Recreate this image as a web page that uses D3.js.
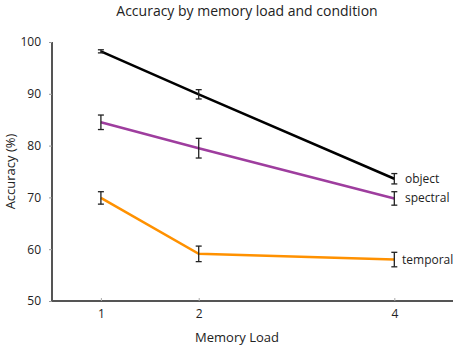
<!DOCTYPE html>
<html><head><meta charset="utf-8">
<script src="https://cdn.jsdelivr.net/npm/d3@7"></script>
<style>body{margin:0;background:#fff}svg{display:block}text{font-family:"Open Sans",sans-serif;fill:#222}</style>
</head><body>
<script>
const loads = [1, 2, 4];
const yTicks = [50, 60, 70, 80, 90, 100];
const conditions = ["object", "spectral", "temporal"];
const objectVals = [98.2, 89.9, 73.6];
const objectErr = [0.3, 0.9, 1.0];
const spectralVals = [84.5, 79.5, 69.8];
const spectralErr = [1.4, 1.9, 1.3];
const temporalVals = [69.9, 59.1, 58.0];
const temporalErr = [1.2, 1.5, 1.4];
const colors = ["#000000", "#9e3d9e", "#ff9100"];

const series = [
  {name: conditions[0], vals: objectVals, err: objectErr, color: colors[0]},
  {name: conditions[1], vals: spectralVals, err: spectralErr, color: colors[1]},
  {name: conditions[2], vals: temporalVals, err: temporalErr, color: colors[2]}
];

const W = 454, H = 346;
const svg = d3.select("body").append("svg").attr("width", W).attr("height", H);
const x = d3.scaleLinear().domain([0.5, 4.6]).range([52, 453]);
const y = d3.scaleLinear().domain([50, 100]).range([301, 42]);

// title
svg.append("text").attr("x", 247).attr("y", 16).attr("text-anchor", "middle")
  .style("font-size", "14px").text("Accuracy by memory load and condition");

// y axis
const ya = svg.append("g").attr("transform", `translate(${x(0.5)},0)`)
  .call(d3.axisLeft(y).tickValues(yTicks).tickSize(3).tickPadding(8).tickFormat(d3.format("d")));
ya.select(".domain").attr("stroke", "#555").attr("stroke-width", 2).attr("d", `M0,${y(100)}V${y(50)}`);
ya.selectAll(".tick line").attr("stroke", "#999");
ya.selectAll(".tick text").style("font-size", "12px").style("font-family", "Open Sans").attr("fill", "#222");

// x axis
const xa = svg.append("g").attr("transform", `translate(0,${y(50)})`)
  .call(d3.axisBottom(x).tickValues(loads).tickSize(-3).tickPadding(8).tickFormat(d3.format("d")));
xa.select(".domain").attr("stroke", "#555").attr("stroke-width", 2).attr("d", `M${x(0.5)},0H${x(4.6)}`);
xa.selectAll(".tick line").attr("stroke", "#aaa");
xa.selectAll(".tick text").style("font-size", "12px").style("font-family", "Open Sans").attr("fill", "#222");

// axis labels
svg.append("text").attr("x", 237).attr("y", 342).attr("text-anchor", "middle")
  .style("font-size", "13px").text("Memory Load");
svg.append("text").attr("transform", `translate(15,${(y(50)+y(100))/2}) rotate(-90)`)
  .attr("text-anchor", "middle").style("font-size", "13px").text("Accuracy (%)");

const line = d3.line().x((d, i) => x(loads[i])).y(d => y(d));
series.forEach(s => {
  svg.append("path").datum(s.vals).attr("d", line).attr("fill", "none")
    .attr("stroke", s.color).attr("stroke-width", 2.5);
});
series.forEach(s => {
  const g = svg.append("g").attr("stroke", "#222").attr("stroke-width", 1.3);
  s.vals.forEach((v, i) => {
    const cx = x(loads[i]), y1 = y(v + s.err[i]), y2 = y(v - s.err[i]);
    g.append("line").attr("x1", cx).attr("x2", cx).attr("y1", y1).attr("y2", y2);
    g.append("line").attr("x1", cx - 3).attr("x2", cx + 3).attr("y1", y1).attr("y2", y1);
    g.append("line").attr("x1", cx - 3).attr("x2", cx + 3).attr("y1", y2).attr("y2", y2);
  });
});
// end labels
const labelX = [405, 405, 402];
const labelDy = [0, -1, 0];
series.forEach((s, k) => {
  svg.append("text").attr("x", labelX[k]).attr("y", y(s.vals[2]) + labelDy[k]).attr("dy", "0.35em")
    .style("font-size", "12px").text(s.name);
});
</script>
</body></html>
